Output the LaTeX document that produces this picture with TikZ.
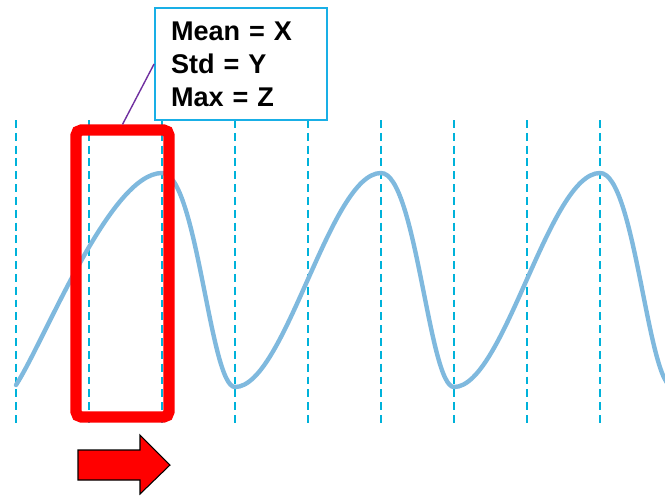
\documentclass[tikz,border=0pt]{standalone}
\usepackage{fontspec}
\setmainfont{Liberation Sans}
\usepackage{tikz}
\usetikzlibrary{arrows.meta,positioning,calc}
\definecolor{wavecol}{RGB}{127,185,222}
\definecolor{gridcyan}{RGB}{0,178,218}
\definecolor{boxcyan}{RGB}{25,175,230}
\definecolor{pinpurple}{RGB}{112,48,160}
\definecolor{winred}{RGB}{255,0,0}

\begin{document}
\begin{tikzpicture}[
  x=0.02cm, y=-0.02cm,
  grid/.style={gridcyan, line width=1.1pt, dash pattern=on 4.5pt off 2.8pt},
  wave/.style={wavecol, line width=2.5pt, line cap=round},
  window/.style={draw=winred, line width=6.4pt, rounded corners=3pt,
                 minimum width=1.86cm, minimum height=5.74cm, inner sep=0pt},
  statbox/.style={draw=boxcyan, line width=1.1pt, fill=white,
                  text width=2.8cm, inner xsep=0.32cm, minimum height=2.24cm,
                  align=left, font=\fontsize{15.4}{18.7}\selectfont\bfseries},
  pinline/.style={pinpurple, line width=0.8pt},
  slide/.style={draw=black, line width=0.6pt, fill=winred, line join=miter},
]
\useasboundingbox (0,0) rectangle (665,495);

%% ── Window boundaries ───────────────────────────────────────────────────────
\foreach \k in {0,...,8}
  \draw[grid] ({16+73*\k},120) -- ({16+73*\k},423);

%% ── Signal ──────────────────────────────────────────────────────────────────
\begin{scope}
  \clip (0,0) rectangle (665,495);
  \draw[wave] (16,385) .. controls (45,340) and (110,173) .. (162,173)
    \foreach \s in {0,219,438}{
      .. controls ({197+\s},173) and ({210+\s},387) .. ({235+\s},387)
      .. controls ({285+\s},387) and ({330+\s},173) .. ({381+\s},173)
    };
\end{scope}

%% ── Sliding window ──────────────────────────────────────────────────────────
\node[window] (win) at (122.5,273.5) {};

%% ── Window statistics ───────────────────────────────────────────────────────
\node[statbox] (stats) at (241,64) {Mean = X\\Std = Y\\Max = Z};
\draw[pinline] (win.north) -- (stats.west);

%% ── Slide direction ─────────────────────────────────────────────────────────
\draw[slide] (78,450) -- (140,450) -- (140,435) -- (170,465)
  -- (140,494) -- (140,480) -- (78,480) -- cycle;

\end{tikzpicture}
\end{document}
